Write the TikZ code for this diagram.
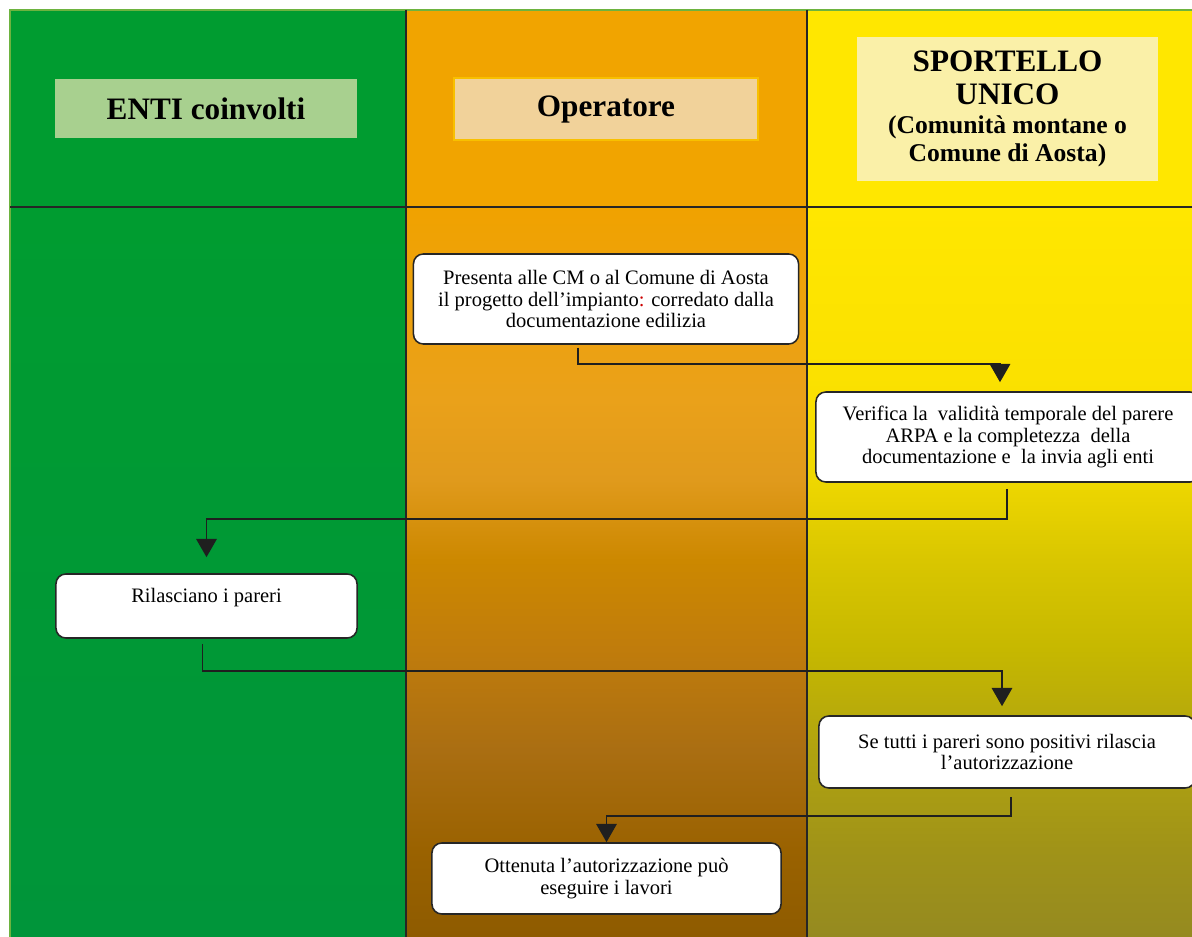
\documentclass[tikz,border=0pt]{standalone}
\usepackage{fontspec}
\setmainfont{Liberation Serif}
\usetikzlibrary{arrows.meta}
\definecolor{entigreen}{HTML}{009C30}
\definecolor{entigreenbot}{HTML}{00953A}
\definecolor{entihead}{HTML}{A8D08F}
\definecolor{opeorange}{HTML}{F1A400}
\definecolor{opehead}{HTML}{F1D29A}
\definecolor{opeframe}{HTML}{F8C000}
\definecolor{supyellow}{HTML}{FFE700}
\definecolor{suphead}{HTML}{FAF0A8}
\definecolor{edgegreen}{HTML}{6DB33F}
% orange lane, bottom to top
\definecolor{opeA}{HTML}{8E5B00}
\definecolor{opeB}{HTML}{9A6200}
\definecolor{opeC}{HTML}{AA6E12}
\definecolor{opeD}{HTML}{C07C0C}
\definecolor{opeE}{HTML}{CC8800}
\definecolor{opeF}{HTML}{E09A1C}
\definecolor{opeG}{HTML}{EAA11A}
\definecolor{opeH}{HTML}{F0A200}
% yellow lane, bottom to top
\definecolor{supA}{HTML}{958A20}
\definecolor{supB}{HTML}{A09318}
\definecolor{supC}{HTML}{B0A310}
\definecolor{supD}{HTML}{C6B800}
\definecolor{supE}{HTML}{D9C600}
\definecolor{supF}{HTML}{EED700}
\definecolor{supG}{HTML}{FAE000}
\definecolor{supH}{HTML}{FFE700}
\pgfdeclareverticalshading{opeshade}{100bp}{%
    color(0bp)=(opeA); color(25bp)=(opeA); color(31bp)=(opeB);
    color(37.8bp)=(opeC); color(44.7bp)=(opeD); color(50.8bp)=(opeE);
    color(56.3bp)=(opeF); color(61.8bp)=(opeG); color(75bp)=(opeH);
    color(100bp)=(opeH)}
\pgfdeclareverticalshading{supshade}{100bp}{%
    color(0bp)=(supA); color(25bp)=(supA); color(31bp)=(supB);
    color(37.8bp)=(supC); color(44.7bp)=(supD); color(50.8bp)=(supE);
    color(56.3bp)=(supF); color(61.8bp)=(supG); color(75bp)=(supH);
    color(100bp)=(supH)}
\begin{document}
\begin{tikzpicture}[x=0.025cm,y=-0.025cm,
    stepbox/.style={draw=black!85,line width=1.1pt,fill=white,rounded corners=7pt,
        align=center,inner sep=0pt,font=\fontsize{14.6}{15.3}\selectfont},
    headbox/.style={align=center,inner sep=0pt,font=\fontsize{22.2}{23.5}\selectfont\bfseries},
    lanerule/.style={line width=1.2pt,color=black!85},
    flow/.style={line width=1.4pt,color=black!88,-{Triangle[width=14.5pt,length=13pt]}}]
    \useasboundingbox (0,0) rectangle (1192,937);
    \clip (0,0) rectangle (1192,937);
    % lanes
    \fill[entigreen] (10,10) rectangle (406,207);
    \fill[opeorange] (406,10) rectangle (807,207);
    \fill[supyellow] (807,10) rectangle (1192,207);
    \shade[top color=entigreen,bottom color=entigreenbot] (10,207) rectangle (406,937);
    \shade[shading=opeshade] (406,207) rectangle (807,937);
    \shade[shading=supshade] (807,207) rectangle (1192,937);
    \draw[edgegreen,line width=0.8pt] (10,937) -- (10,10) -- (1192,10);
    \draw[lanerule] (406,10) -- (406,937);
    \draw[lanerule] (807,10) -- (807,937);
    \draw[lanerule] (10,207) -- (1192,207);
    % headers
    \node[headbox,fill=entihead,minimum width=7.55cm,minimum height=1.475cm] (enti) at (206,108.5) {ENTI coinvolti};
    \node[headbox,fill=opehead,draw=opeframe,line width=1pt,minimum width=7.6cm,minimum height=1.55cm] (ope) at (606,109) {Operatore};
    \node[headbox,fill=suphead,minimum width=7.525cm,minimum height=3.6cm] (sup) at (1007.5,109)
        {SPORTELLO\\UNICO\\[-2.9pt]\fontsize{18.2}{20}\selectfont(Comunità montane o\\[-3.6pt]\fontsize{18.2}{20}\selectfont Comune di Aosta)};
    % steps
    \node[stepbox,minimum width=9.625cm,minimum height=2.25cm] (pres) at (606,299)
        {Presenta alle CM o al Comune di Aosta\\il progetto dell’impianto\textcolor{red!80!black}{:} corredato dalla\\documentazione edilizia};
    \node[stepbox,minimum width=9.6cm,minimum height=2.25cm] (verif) at (1008,437)
        {Verifica la\ \ validità temporale del parere\\ARPA e la completezza\ \ della\\documentazione e\ \ la invia agli enti};
    \node[stepbox,minimum width=7.525cm,minimum height=1.6cm] (ril) at (206.5,606)
        {Rilasciano i pareri\\[-5pt]\strut};
    \node[stepbox,minimum width=9.4cm,minimum height=1.8cm] (tutti) at (1007,752)
        {Se tutti i pareri sono positivi rilascia\\l’autorizzazione};
    \node[stepbox,minimum width=8.725cm,minimum height=1.775cm] (ott) at (606.5,878.5)
        {Ottenuta l’autorizzazione può\\eseguire i lavori};
    % connectors
    \draw[flow] ([xshift=-0.7cm,yshift=-2pt]pres.south) -- ++(0,16) -| ([xshift=-0.2cm,yshift=0.225cm]verif.north);
    \draw[flow] ([xshift=-0.025cm,yshift=-0.15cm]verif.south) -- ++(0,30) -| ([yshift=0.4cm]ril.north);
    \draw[flow] ([xshift=-0.1cm,yshift=-0.125cm]ril.south) -- ++(0,27) -| ([xshift=-0.125cm,yshift=0.225cm]tutti.north);
    \draw[flow] ([xshift=0.1cm,yshift=-0.2cm]tutti.south) -- ++(0,19) -| (ott.north);
\end{tikzpicture}
\end{document}
